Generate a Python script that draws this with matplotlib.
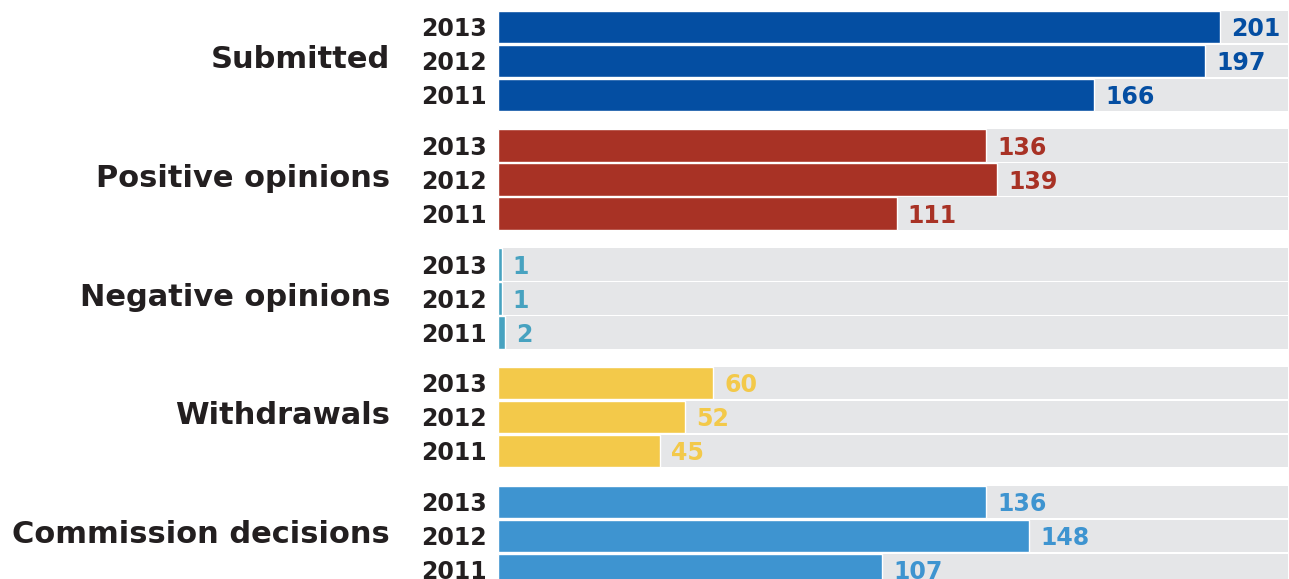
import matplotlib.pyplot as plt

categories = ["Submitted", "Positive opinions", "Negative opinions",
              "Withdrawals", "Commission decisions"]
years = ["2013", "2012", "2011"]
values = [
    [201, 197, 166],
    [136, 139, 111],
    [1, 1, 2],
    [60, 52, 45],
    [136, 148, 107],
]
colors = ["#044ea2", "#a83225", "#47a2c0", "#f3c94a", "#3e94d0"]
scale_max = 220

W, H = 1289, 579
fig = plt.figure(figsize=(W / 100, H / 100), dpi=100)
x0, x1 = 498, 1288
ax = fig.add_axes([x0 / W, 0, (x1 - x0) / W, 1])
ax.set_xlim(0, scale_max)
ax.set_ylim(H, 0)
ax.axis("off")

row_pitch = 34
group_pitch = 118.75
top = 10.5
bar_h = 32.5

for g, (cat, vals, col) in enumerate(zip(categories, values, colors)):
    gtop = top + g * group_pitch
    for i, (yr, v) in enumerate(zip(years, vals)):
        yc = gtop + i * row_pitch + bar_h / 2
        ax.barh(yc, scale_max, height=bar_h, color="#e5e6e8", linewidth=0)
        ax.barh(yc, v, height=bar_h, color=col, edgecolor="white", linewidth=1)
        ax.annotate(str(v), (v, yc), xytext=(8, 0), textcoords="offset points",
                    ha="left", va="center_baseline", fontsize=17,
                    fontweight="bold", color=col)
        fig.text(487 / W, 1 - yc / H, yr, ha="right", va="center_baseline",
                 fontsize=17, fontweight="bold", color="#231f20")
    # group title sits a little above the middle row
    ymid = gtop + row_pitch + bar_h / 2 - 4
    fig.text(390 / W, 1 - ymid / H, cat, ha="right", va="center_baseline",
             fontsize=22, fontweight="bold", color="#231f20")

fig.savefig("out.png", dpi=100)
